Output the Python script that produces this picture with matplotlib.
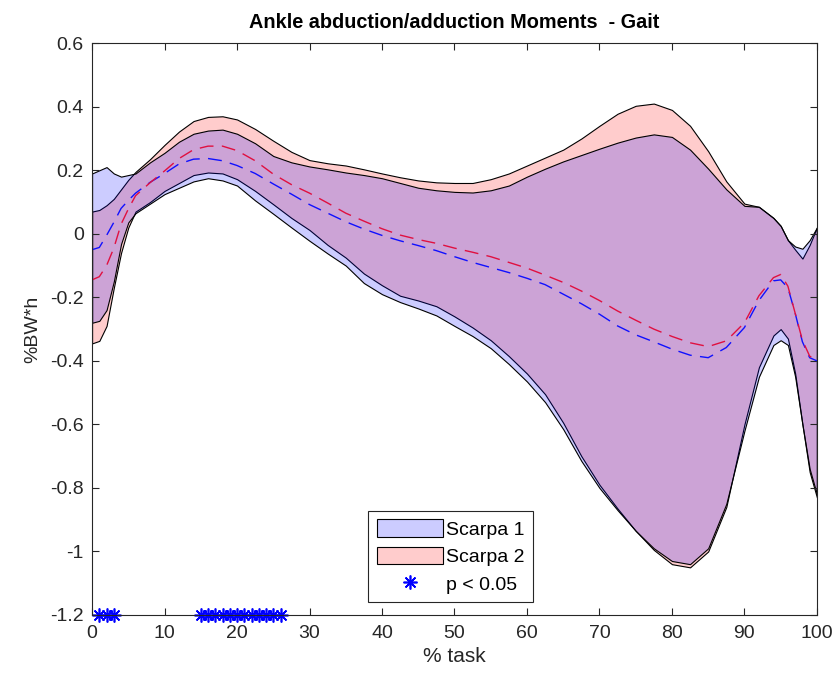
import matplotlib
matplotlib.use('Agg')
import matplotlib.pyplot as plt

plt.rcParams['font.family'] = ['Liberation Sans', 'DejaVu Sans']

# ── data (x in % task, y in %BW*h) ────────────────────────────────────────────
x = [0, 1, 2, 3, 4, 5, 6, 8, 10, 12, 14, 16, 18, 20, 22.5, 25, 27.5, 30, 32.5, 35,
     37.5, 40, 42.5, 45, 47.5, 50, 52.5, 55, 57.5, 60, 62.5, 65, 67.5, 70, 72.5, 75,
     77.5, 80, 82.5, 85, 87.5, 90, 92, 94, 95, 96, 97, 98, 99, 100]

# Scarpa 1 (blue)
s1_hi = [0.19, 0.20, 0.21, 0.19, 0.18, 0.185, 0.19, 0.225, 0.255, 0.29, 0.315, 0.325,
         0.328, 0.315, 0.285, 0.245, 0.225, 0.212, 0.203, 0.193, 0.185, 0.175, 0.16,
         0.145, 0.137, 0.132, 0.13, 0.137, 0.152, 0.18, 0.205, 0.228, 0.248, 0.268,
         0.287, 0.303, 0.313, 0.305, 0.265, 0.205, 0.14, 0.088, 0.085, 0.05, 0.025,
         -0.02, -0.04, -0.047, -0.02, 0.02]
s1_lo = [-0.28, -0.274, -0.24, -0.15, -0.032, 0.036, 0.065, 0.095, 0.125, 0.145, 0.165,
         0.175, 0.168, 0.152, 0.105, 0.063, 0.02, -0.022, -0.062, -0.1, -0.155, -0.19,
         -0.215, -0.235, -0.257, -0.29, -0.322, -0.36, -0.41, -0.465, -0.53, -0.615,
         -0.715, -0.80, -0.87, -0.935, -0.99, -1.03, -1.04, -0.99, -0.85, -0.62, -0.45,
         -0.35, -0.335, -0.35, -0.45, -0.6, -0.74, -0.82]
s1_mean = [-0.05, -0.043, -0.005, 0.036, 0.08, 0.105, 0.128, 0.162, 0.19, 0.22, 0.235,
           0.237, 0.23, 0.215, 0.19, 0.157, 0.125, 0.092, 0.065, 0.038, 0.015, -0.005,
           -0.022, -0.037, -0.053, -0.072, -0.09, -0.106, -0.122, -0.14, -0.16, -0.19,
           -0.22, -0.253, -0.29, -0.318, -0.34, -0.363, -0.382, -0.39, -0.358, -0.295,
           -0.21, -0.148, -0.145, -0.17, -0.25, -0.34, -0.39, -0.40]

# Scarpa 2 (red)
s2_hi = [0.07, 0.075, 0.09, 0.11, 0.14, 0.17, 0.195, 0.235, 0.28, 0.322, 0.355, 0.368,
         0.37, 0.36, 0.33, 0.293, 0.258, 0.232, 0.222, 0.215, 0.203, 0.19, 0.178, 0.168,
         0.162, 0.16, 0.16, 0.172, 0.19, 0.215, 0.24, 0.265, 0.30, 0.34, 0.378, 0.403,
         0.41, 0.39, 0.34, 0.26, 0.165, 0.095, 0.085, 0.05, 0.025, -0.02, -0.05, -0.078,
         -0.035, 0.02]
s2_lo = [-0.345, -0.337, -0.29, -0.17, -0.06, 0.02, 0.07, 0.10, 0.135, 0.16, 0.185, 0.193,
         0.19, 0.172, 0.135, 0.093, 0.05, 0.012, -0.035, -0.075, -0.125, -0.162, -0.195,
         -0.21, -0.228, -0.26, -0.295, -0.335, -0.385, -0.44, -0.505, -0.595, -0.70, -0.79,
         -0.865, -0.935, -0.995, -1.04, -1.05, -1.0, -0.86, -0.60, -0.42, -0.32, -0.30,
         -0.33, -0.44, -0.60, -0.75, -0.83]
s2_mean = [-0.145, -0.135, -0.10, -0.045, 0.03, 0.078, 0.12, 0.161, 0.198, 0.237, 0.265,
           0.276, 0.276, 0.262, 0.23, 0.188, 0.155, 0.128, 0.097, 0.065, 0.04, 0.016,
           -0.004, -0.018, -0.03, -0.045, -0.058, -0.072, -0.09, -0.108, -0.13, -0.153,
           -0.18, -0.21, -0.243, -0.272, -0.30, -0.323, -0.343, -0.355, -0.337, -0.28,
           -0.195, -0.138, -0.128, -0.165, -0.25, -0.335, -0.385, -0.40]

# points where p < 0.05
sig_x = [1, 2, 3, 15, 16, 17, 18, 19, 20, 21, 22, 23, 24, 25, 26]
sig_y = [-1.2] * len(sig_x)

yticks = [-1.2, -1, -0.8, -0.6, -0.4, -0.2, 0, 0.2, 0.4, 0.6]
ytick_labels = ['-1.2', '-1', '-0.8', '-0.6', '-0.4', '-0.2', '0', '0.2', '0.4', '0.6']

TXT = '#262626'

fig = plt.figure(figsize=(8.37, 6.86), dpi=100)
ax = fig.add_axes([0.110, 0.1035, 0.866, 0.8335])

f2 = ax.fill_between(x, s2_lo, s2_hi, facecolor=(1, 0, 0, 0.2), edgecolor='k',
                     linewidth=0.8, label='Scarpa 2')
f1 = ax.fill_between(x, s1_lo, s1_hi, facecolor=(0, 0, 1, 0.2), edgecolor='k',
                     linewidth=0.8, label='Scarpa 1')
ax.plot(x, s1_mean, color='#1010ff', linestyle=(0, (10, 6)), linewidth=1.0)
ax.plot(x, s2_mean, color='#e01040', linestyle=(0, (10, 6)), linewidth=1.0)
st, = ax.plot(sig_x, sig_y, linestyle='none', marker=(8, 2, 0), markersize=10,
              markeredgewidth=1.2, color='blue', label='p < 0.05', clip_on=False)

ax.set_xlim(0, 100); ax.set_ylim(-1.2, 0.6)
ax.set_xticks(range(0, 101, 10))
ax.set_yticks(yticks)
ax.set_yticklabels(ytick_labels)
ax.tick_params(direction='in', length=5, labelsize=14, colors=TXT, top=True, right=True,
               labeltop=False, labelright=False, width=0.8)
ax.tick_params(axis='x', pad=7)
ax.tick_params(axis='y', pad=6)
for s in ax.spines.values():
    s.set_color(TXT); s.set_linewidth(0.8)

ax.set_title('Ankle abduction/adduction Moments  - Gait', fontsize=14.3, fontweight='bold',
             color='black', pad=11)
ax.set_xlabel('% task', fontsize=15, color=TXT, labelpad=4)
ax.set_ylabel('%BW*h', fontsize=14, color=TXT, labelpad=6)

leg = ax.legend(handles=[f1, f2, st], loc='lower left', bbox_to_anchor=(0.381, 0.022),
                fontsize=14, fancybox=False, framealpha=1, edgecolor=TXT,
                handlelength=3.4, handleheight=1.0, borderpad=0.45, labelspacing=0.42,
                handletextpad=0.15, borderaxespad=0, numpoints=1)
leg.get_frame().set_linewidth(0.8)

plt.savefig('out.png', dpi=100)
